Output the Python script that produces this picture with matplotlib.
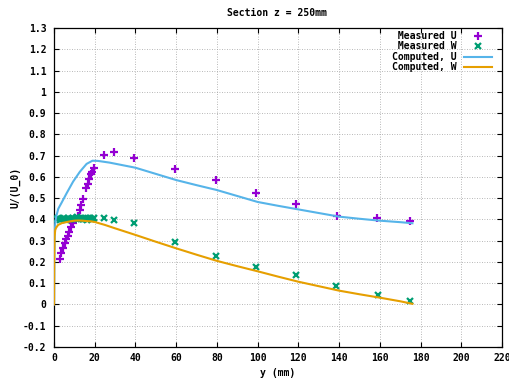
import matplotlib
matplotlib.use("Agg")
import matplotlib.pyplot as plt
from matplotlib.ticker import FixedLocator, FuncFormatter

# ---------------- data ----------------
title = "Section z = 250mm"
xlabel = "y (mm)"
ylabel = "U/(U_0)"

meas_u_y = [2.9, 3.6, 4.4, 5.2, 6.0, 6.8, 7.6, 8.4, 9.2, 11.6, 12.6, 13.4, 14.2,
            15.7, 16.5, 17.4, 18.2, 18.8, 19.7, 24.5, 29.5, 39.5, 59.5, 79.5,
            99.2, 119.0, 139.0, 158.7, 174.8]
meas_u_v = [0.213, 0.243, 0.266, 0.287, 0.307, 0.323, 0.342, 0.363, 0.382, 0.418,
            0.445, 0.470, 0.494, 0.546, 0.568, 0.590, 0.612, 0.625, 0.643, 0.701,
            0.718, 0.687, 0.636, 0.584, 0.523, 0.471, 0.416, 0.405, 0.394]

meas_w_y = [1.5, 2.2, 2.9, 3.6, 4.3, 5.0, 5.7, 6.4, 7.1, 7.8, 8.5, 9.2, 9.9, 10.6,
            11.3, 12.0, 12.7, 13.4, 14.1, 14.8, 15.5, 16.2, 16.9, 17.6, 18.3, 19.0,
            19.7, 24.5, 29.5, 39.5, 59.5, 79.5, 99.2, 118.9, 138.7, 159.0, 174.8]
meas_w_v = [0.400, 0.405, 0.398, 0.404, 0.401, 0.407, 0.399, 0.403, 0.406, 0.400,
            0.404, 0.408, 0.401, 0.405, 0.410, 0.403, 0.407, 0.400, 0.404, 0.402,
            0.406, 0.399, 0.405, 0.408, 0.401, 0.404, 0.406, 0.405, 0.398, 0.381,
            0.296, 0.230, 0.178, 0.139, 0.087, 0.045, 0.014]

comp_u_y = [0.0, 0.1, 0.3, 0.6, 1.0, 2.1, 3.7, 6.2, 9.4, 12.7, 16.0, 18.9, 21.6,
            27.3, 40, 50, 60, 70, 80, 90, 100, 110, 120, 130, 140, 150, 160, 170, 176]
comp_u_v = [0.0, 0.22, 0.33, 0.38, 0.41, 0.45, 0.478, 0.523, 0.578, 0.624, 0.661,
            0.676, 0.675, 0.667, 0.643, 0.614, 0.585, 0.561, 0.538, 0.510, 0.482,
            0.464, 0.447, 0.430, 0.413, 0.403, 0.394, 0.387, 0.382]

comp_w_y = [0.0, 0.1, 0.3, 0.6, 1.0, 2.0, 4.0, 6.0, 8.0, 10.0, 12.0, 14.0, 16.0,
            18.0, 20.0, 25.0, 30.0, 40, 50, 60, 70, 80, 90, 100, 110, 120, 130,
            140, 150, 160, 170, 176]
comp_w_v = [0.0, 0.20, 0.32, 0.35, 0.36, 0.374, 0.383, 0.387, 0.391, 0.394, 0.395,
            0.394, 0.392, 0.391, 0.388, 0.374, 0.358, 0.327, 0.295, 0.264, 0.234,
            0.205, 0.180, 0.156, 0.131, 0.107, 0.086, 0.065, 0.048, 0.032, 0.015,
            0.003]

labels = ["Measured U", "Measured W", "Computed, U", "Computed, W"]
colors = ["#9400d3", "#009e73", "#56b4e9", "#e69f00"]

x_ticks = [0, 20, 40, 60, 80, 100, 120, 140, 160, 180, 200, 220]
y_ticks = [-0.2, -0.1, 0, 0.1, 0.2, 0.3, 0.4, 0.5, 0.6, 0.7, 0.8, 0.9, 1.0,
           1.1, 1.2, 1.3]

# ---------------- figure ----------------
FONT = "DejaVu Sans Mono"
FS = 7
plt.rcParams["font.family"] = [FONT]
plt.rcParams["font.weight"] = "bold"

fig = plt.figure(figsize=(5.10, 3.79), dpi=100)
ax = fig.add_axes([54 / 510, 1 - 347 / 379, 448 / 510, 319 / 379])

ax.plot(meas_u_y, meas_u_v, linestyle="none", marker="+", markersize=5.5,
        markeredgewidth=1.6, color=colors[0], label=labels[0], zorder=3)
ax.plot(meas_w_y, meas_w_v, linestyle="none", marker="x", markersize=4,
        markeredgewidth=1.6, color=colors[1], label=labels[1], zorder=3)
ax.plot(comp_u_y, comp_u_v, color=colors[2], linewidth=1.5, label=labels[2], zorder=4)
ax.plot(comp_w_y, comp_w_v, color=colors[3], linewidth=1.5, label=labels[3], zorder=4)

ax.set_xlim(0, 220)
ax.set_ylim(-0.2, 1.3)
ax.xaxis.set_major_locator(FixedLocator(x_ticks))
ax.yaxis.set_major_locator(FixedLocator(y_ticks))


def gfmt(v, pos):
    s = "%g" % round(v, 6)
    return "0" if s in ("-0", "0") else s


ax.yaxis.set_major_formatter(FuncFormatter(gfmt))
ax.xaxis.set_major_formatter(FuncFormatter(gfmt))

ax.tick_params(direction="in", length=3.5, width=0.8, top=True, right=True,
               labelsize=FS, color="black")
ax.tick_params(axis="y", pad=5.5)
ax.tick_params(axis="x", pad=4.0)

ax.grid(True, color="#a0a0a0", linewidth=0.6, linestyle=(0, (1, 2)))
ax.set_axisbelow(True)
for sp in ax.spines.values():
    sp.set_linewidth(0.9)
    sp.set_color("black")

fig.text(277 / 510, 1 - 12.7 / 379, title, ha="center", va="center",
         fontsize=FS, fontweight="bold")
fig.text(278 / 510, 1 - 373 / 379, xlabel, ha="center", va="center",
         fontsize=FS, fontweight="bold")
fig.text(15 / 510, 1 - 187 / 379, ylabel, ha="center", va="center",
         rotation=90, fontsize=FS, fontweight="bold")

# right-align the legend labels (monospace): pad to equal length
width = max(len(s) for s in labels)
padded = [s.rjust(width) for s in labels]
handles = ax.get_legend_handles_labels()[0]
leg = ax.legend(handles, padded, loc="upper right",
                bbox_to_anchor=((492 - 54) / 448, (347 - 31) / 319),
                frameon=False, markerfirst=False, handlelength=2.9,
                handletextpad=0.7, labelspacing=0.05, borderaxespad=0, borderpad=0,
                prop={"family": FONT, "weight": "bold", "size": FS})

fig.savefig("out.png", dpi=100)
